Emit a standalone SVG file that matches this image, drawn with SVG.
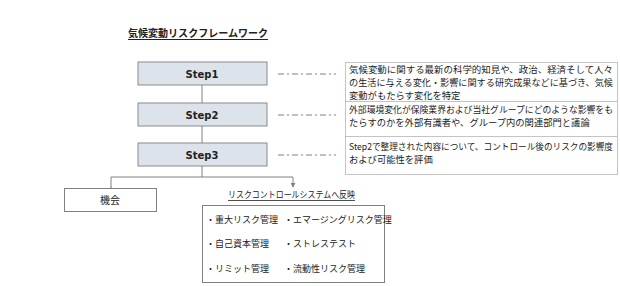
<svg xmlns="http://www.w3.org/2000/svg" width="620" height="286" viewBox="0 0 620 286">
<defs>
<marker id="ah" viewBox="0 0 6 6" refX="5" refY="3" markerWidth="5" markerHeight="5" orient="auto">
<path d="M0,0 L6,3 L0,6 z" fill="#808080"/>
</marker>
<style>
.jp{font-family:"Noto Sans CJK JP","Noto Sans",sans-serif;fill:#222}
.step{fill:#dde3ea;stroke:#8a8a8a;stroke-width:1}
.lbl{font-family:"DejaVu Sans","Noto Sans",sans-serif;font-weight:bold;font-size:10px;fill:#222;text-anchor:middle}
.con{stroke:#808080;stroke-width:1;fill:none}
.dd{stroke:#808080;stroke-width:1;stroke-dasharray:6 3 2 3;fill:none}
.dot{stroke:#888;stroke-width:1;stroke-dasharray:1 1;fill:none}
.box{fill:#fff;stroke:#808080;stroke-width:1}
.desc{font-size:9.3px}
.nar{font-size:8.8px}
.item{font-size:9px}
</style>
</defs>
<rect width="620" height="286" fill="#fff"/>
<g id="title">
<text class="jp" x="128" y="37" font-size="10.5" font-weight="bold" textLength="140" lengthAdjust="spacingAndGlyphs">気候変動リスクフレームワーク</text>
<line x1="128" y1="39.5" x2="268" y2="39.5" stroke="#222" stroke-width="1"/>
</g>
<g id="connectors">
<line class="con" x1="202" y1="85" x2="202" y2="103"/>
<line class="con" x1="202" y1="126" x2="202" y2="143"/>
<line class="con" x1="202" y1="166" x2="202" y2="177"/>
<polyline class="con" points="111,187 111,177 293,177 293,187" marker-start="url(#ah)" marker-end="url(#ah)"/>
<line class="dd" x1="278" y1="74" x2="336" y2="74"/>
<line class="dd" x1="278" y1="115" x2="336" y2="115"/>
<line class="dd" x1="278" y1="155" x2="336" y2="155"/>
</g>
<g id="step1">
<rect class="step" x="138" y="62" width="129" height="23"/>
<text class="lbl" x="202" y="77.5">Step1</text>
</g>
<g id="step2">
<rect class="step" x="138" y="103" width="129" height="23"/>
<text class="lbl" x="202" y="118.5">Step2</text>
</g>
<g id="step3">
<rect class="step" x="138" y="143" width="129" height="23"/>
<text class="lbl" x="202" y="158.5">Step3</text>
</g>
<g id="descriptions">
<rect class="dot" x="345.5" y="62.5" width="272" height="112"/>
<line class="dot" x1="345.5" y1="101.5" x2="617.5" y2="101.5"/>
<line class="dot" x1="345.5" y1="136.5" x2="617.5" y2="136.5"/>
<text class="jp nar" x="349" y="73" textLength="264" lengthAdjust="spacingAndGlyphs">気候変動に関する最新の科学的知見や、政治、経済そして人々</text>
<text class="jp nar" x="349" y="86" textLength="264" lengthAdjust="spacingAndGlyphs">の生活に与える変化・影響に関する研究成果などに基づき、気候</text>
<text class="jp desc" x="349" y="98.5">変動がもたらす変化を特定</text>
<text class="jp nar" x="349" y="113" textLength="264" lengthAdjust="spacingAndGlyphs">外部環境変化が保険業界および当社グループにどのような影響をも</text>
<text class="jp desc" x="349" y="126">たらすのかを外部有識者や、グループ内の関連部門と議論</text>
<text class="jp nar" x="349" y="150" textLength="264" lengthAdjust="spacingAndGlyphs">Step2で整理された内容について、コントロール後のリスクの影響度</text>
<text class="jp desc" x="349" y="163">および可能性を評価</text>
</g>
<g id="opportunity">
<rect class="box" x="64.5" y="188.5" width="92" height="23"/>
<text class="jp" x="110" y="204" font-size="10" text-anchor="middle">機会</text>
</g>
<g id="risk-control">
<text class="jp" x="228" y="198" font-size="9" textLength="127" lengthAdjust="spacingAndGlyphs">リスクコントロールシステムへ反映</text>
<line x1="228" y1="200.5" x2="355" y2="200.5" stroke="#222" stroke-width="0.8"/>
<rect class="box" x="202.5" y="205.5" width="182" height="77"/>
<text class="jp item" x="206" y="223">・重大リスク管理</text>
<text class="jp item" x="284" y="223">・エマージングリスク管理</text>
<text class="jp item" x="206" y="247">・自己資本管理</text>
<text class="jp item" x="284" y="247">・ストレステスト</text>
<text class="jp item" x="206" y="272">・リミット管理</text>
<text class="jp item" x="284" y="272">・流動性リスク管理</text>
</g>
</svg>
